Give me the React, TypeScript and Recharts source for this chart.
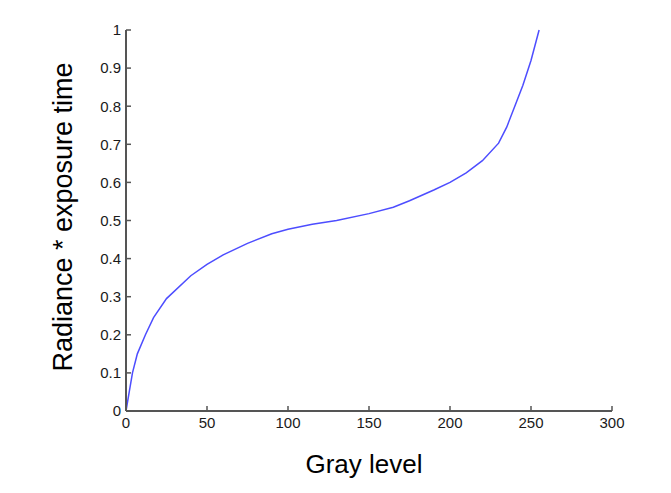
import { Label, Line, LineChart, XAxis, YAxis } from 'recharts';

const grayLevels = [0, 2, 4, 7, 12, 17, 25, 40, 50, 60, 75, 90, 100, 115, 130, 150, 165, 175, 190, 200, 210, 220, 230, 235, 240, 245, 250, 255];
const radiance = [0, 0.05, 0.1, 0.15, 0.2, 0.245, 0.295, 0.355, 0.385, 0.41, 0.44, 0.465, 0.477, 0.49, 0.5, 0.518, 0.535, 0.552, 0.58, 0.6, 0.625, 0.657, 0.703, 0.745, 0.8, 0.855, 0.92, 1];

const xTicks = [0, 50, 100, 150, 200, 250, 300];
const yTicks = [0, 0.1, 0.2, 0.3, 0.4, 0.5, 0.6, 0.7, 0.8, 0.9, 1];

const data = grayLevels.map((g, i) => ({ gray: g, value: radiance[i] }));

const font = 'Arial, "Liberation Sans", sans-serif';
const tickStyle = { fill: '#1a1a1a', fontSize: 15, fontFamily: font };
const axisColor = '#555555';

function YLabel() {
  return (
    <text
      x={0}
      y={0}
      transform='translate(72,217) rotate(-90)'
      textAnchor='middle'
      fontSize={27}
      fontFamily={font}
      fill='#000'
    >
      Radiance * exposure time
    </text>
  );
}

export default function App() {
  return (
    <div style={{ position: 'absolute', left: 0, top: 0, background: '#fff' }}>
      <LineChart width={671} height={493} data={data} margin={{ top: 30, right: 59, left: 0, bottom: 0 }}>
        <XAxis
          dataKey='gray'
          type='number'
          domain={[0, 300]}
          ticks={xTicks}
          height={82}
          tick={tickStyle}
          tickSize={-5}
          tickMargin={11}
          stroke={axisColor}
          axisLine={{ stroke: axisColor, strokeWidth: 2 }}
          tickLine={{ stroke: axisColor, strokeWidth: 1.5 }}
        >
          <Label value='Gray level' position='insideBottom' offset={20} dx={-5} fontSize={26} fontFamily={font} fill='#000' />
        </XAxis>
        <YAxis
          type='number'
          domain={[0, 1]}
          ticks={yTicks}
          width={126}
          tick={tickStyle}
          tickSize={-5}
          tickMargin={10}
          stroke={axisColor}
          axisLine={{ stroke: axisColor, strokeWidth: 2 }}
          tickLine={{ stroke: axisColor, strokeWidth: 1.5 }}
        >
          <Label content={<YLabel />} />
        </YAxis>
        <Line
          dataKey='value'
          type='linear'
          stroke='#4d4dff'
          strokeWidth={1.5}
          dot={false}
          isAnimationActive={false}
        />
      </LineChart>
    </div>
  );
}
